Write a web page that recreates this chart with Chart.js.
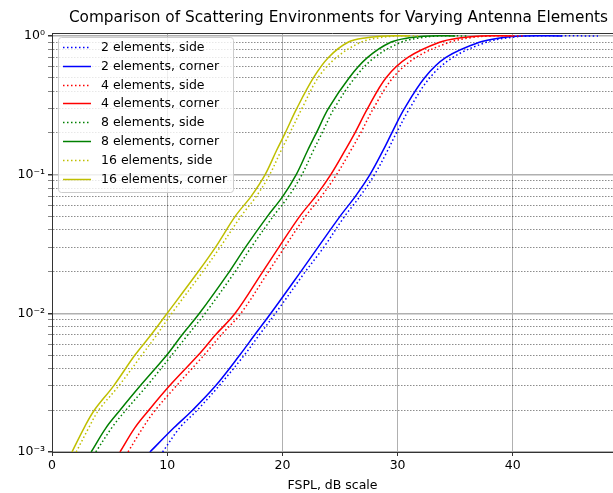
<!DOCTYPE html>
<html>
<head>
<meta charset="utf-8">
<script src="https://cdn.jsdelivr.net/npm/chart.js@4.4.0/dist/chart.umd.min.js"></script>
<style>
  html, body { margin: 0; padding: 0; background: #fff; }
  canvas { display: block; }
</style>
</head>
<body>
<canvas id="myChart" width="613" height="493"></canvas>
<script>
// CDF levels shared by every curve (last entry repeats 1 for the flat tail)
const cdfLevels = [0.001, 0.0015, 0.002, 0.003, 0.005, 0.007, 0.01, 0.02, 0.03, 0.05,
  0.07, 0.1, 0.15, 0.2, 0.3, 0.5, 0.7, 0.9, 0.97, 1, 1];

// FSPL (dB) at each CDF level
const side2 = [9.6, 11.1, 12.6, 14.5, 16.7, 18.0, 19.4, 22.0, 23.6, 25.4, 26.75, 28.0, 29.15, 29.9, 31.05, 32.8, 34.8, 37.7, 39.6, 41.5, 47.4];
const corner2 = [8.5, 10.6, 12.2, 14.2, 16.3, 17.6, 19.0, 21.6, 23.1, 25.0, 26.35, 27.6, 28.75, 29.5, 30.6, 32.35, 34.2, 37.1, 39.0, 40.8, 44.3];
const side4 = [6.6, 7.9, 8.96, 10.8, 13.2, 14.7, 16.4, 18.8, 20.2, 22.0, 23.4, 24.7, 25.95, 26.8, 27.9, 29.6, 31.6, 34.5, 36.3, 38.0, 41.0];
const corner4 = [5.9, 7.2, 8.4, 10.2, 12.7, 14.2, 15.9, 18.3, 19.7, 21.5, 22.9, 24.2, 25.45, 26.3, 27.4, 29.0, 30.9, 33.65, 35.5, 37.2, 40.0];
const side8 = [3.8, 5.2, 6.4, 8.24, 10.4, 11.8, 13.3, 15.9, 17.3, 19.2, 20.55, 21.7, 22.7, 23.45, 24.5, 26.3, 28.0, 30.3, 32.0, 33.6, 36.0];
const corner8 = [3.4, 4.7, 5.9, 7.66, 9.97, 11.3, 12.8, 15.4, 16.8, 18.7, 20.05, 21.2, 22.2, 22.95, 24.0, 25.8, 27.4, 29.4, 31.0, 32.8, 35.0];
const side16 = [2.1, 3.2, 4.05, 5.8, 7.8, 9.1, 10.4, 13.1, 14.6, 16.4, 17.75, 18.9, 19.9, 20.65, 21.7, 23.1, 24.7, 26.8, 28.4, 30.0, 32.0];
const corner16 = [1.73, 2.8, 3.67, 5.35, 7.2, 8.6, 10.0, 12.7, 14.2, 15.9, 17.3, 18.5, 19.5, 20.25, 21.25, 22.7, 24.0, 25.7, 27.3, 29.0, 31.0];

const xTicks = [0, 10, 20, 30, 40];
const yMajor = [0.001, 0.01, 0.1, 1];
const yLabels = ['10\u207B\u00B3', '10\u207B\u00B2', '10\u207B\u00B9', '10\u2070'];
const titleText = 'Comparison of Scattering Environments for Varying Antenna Elements';

const FONT = '"DejaVu Sans", sans-serif';

const toPoints = (xs) => xs.map((x, i) => ({ x: x, y: cdfLevels[i] }));

const makeSet = (label, xs, color, dotted) => ({
  label: label,
  data: toPoints(xs),
  borderColor: color,
  backgroundColor: color,
  borderWidth: 1.5,
  borderDash: dotted ? [1.5, 2.5] : [],
  borderCapStyle: 'butt',
  pointRadius: 0,
  showLine: true,
  fill: false,
  tension: 0.35,
});

const datasets = [
  makeSet('2 elements, side', side2, '#0000ff', true),
  makeSet('2 elements, corner', corner2, '#0000ff', false),
  makeSet('4 elements, side', side4, '#ff0000', true),
  makeSet('4 elements, corner', corner4, '#ff0000', false),
  makeSet('8 elements, side', side8, '#008000', true),
  makeSet('8 elements, corner', corner8, '#008000', false),
  makeSet('16 elements, side', side16, '#bfbf00', true),
  makeSet('16 elements, corner', corner16, '#bfbf00', false),
];
// later datasets are drawn on top
datasets.forEach((d, i) => { d.order = datasets.length - i; });

// all decade ticks: 1..9 x 10^k
const yTicks = [];
[0.001, 0.01, 0.1].forEach((d) => {
  for (let k = 1; k <= 9; k++) yTicks.push(+(k * d).toPrecision(3));
});
yTicks.push(1);
const isMajor = (v) => yMajor.some((m) => Math.abs(m - v) < 1e-12);

// title, top spine and framed legend inside the plot
const framePlugin = {
  id: 'frame',
  afterDatasetsDraw(chart) {
    const { ctx, chartArea } = chart;
    ctx.save();
    ctx.strokeStyle = '#333';
    ctx.lineWidth = 1;
    ctx.beginPath();
    ctx.moveTo(chartArea.left, chartArea.top + 0.5);
    ctx.lineTo(chartArea.right, chartArea.top + 0.5);
    ctx.stroke();

    // axes run a little past the canvas edge, so centre on the full axes width
    ctx.font = '15.3px ' + FONT;
    ctx.fillStyle = '#000';
    ctx.textAlign = 'center';
    ctx.textBaseline = 'middle';
    ctx.fillText(titleText, (chartArea.left + chartArea.right + 12) / 2, chartArea.top - 15);
    ctx.textAlign = 'left';

    const x0 = chartArea.left + 6;
    const y0 = chartArea.top + 4;
    const rowH = 18.8;
    const w = 175;
    const h = 155;
    ctx.beginPath();
    ctx.roundRect(x0 + 0.5, y0 + 0.5, w, h, 3);
    ctx.fillStyle = 'rgba(255,255,255,0.8)';
    ctx.fill();
    ctx.strokeStyle = '#cccccc';
    ctx.stroke();

    ctx.font = '12.5px ' + FONT;
    chart.data.datasets.forEach((ds, i) => {
      const cy = Math.round(y0 + 10 + i * rowH) + 0.5;
      ctx.beginPath();
      ctx.setLineDash(ds.borderDash);
      ctx.lineCap = 'butt';
      ctx.strokeStyle = ds.borderColor;
      ctx.lineWidth = ds.borderWidth;
      ctx.moveTo(x0 + 5, cy);
      ctx.lineTo(x0 + 33, cy);
      ctx.stroke();
      ctx.setLineDash([]);
      ctx.fillStyle = '#000';
      ctx.fillText(ds.label, x0 + 43, cy);
    });
    ctx.restore();
  },
};

new Chart(document.getElementById('myChart'), {
  type: 'scatter',
  data: { datasets: datasets },
  plugins: [framePlugin],
  options: {
    responsive: false,
    animation: false,
    devicePixelRatio: 1,
    layout: { padding: { left: 0, right: 0, top: 33, bottom: 0 } },
    plugins: {
      legend: { display: false },
      tooltip: { enabled: false },
      title: { display: false },
    },
    scales: {
      x: {
        type: 'linear',
        min: 0,
        max: 48.7,
        afterBuildTicks: (scale) => { scale.ticks = xTicks.map((v) => ({ value: v })); },
        afterFit: (scale) => { scale.height = 41; },
        ticks: {
          color: '#000',
          font: { family: FONT, size: 12.5 },
          padding: 2,
          maxRotation: 0,
          autoSkip: false,
        },
        grid: {
          color: '#b0b0b0',
          lineWidth: 1,
          tickColor: '#333',
          tickLength: 4,
        },
        border: { color: '#333', width: 1 },
        title: {
          display: true,
          text: 'FSPL, dB scale',
          color: '#000',
          font: { family: FONT, size: 12.5 },
          padding: { top: 0, bottom: 0 },
        },
      },
      y: {
        type: 'logarithmic',
        min: 0.001,
        max: 1.05,
        afterBuildTicks: (scale) => {
          scale.ticks = yTicks.map((v) => ({ value: v, major: isMajor(v) }));
        },
        afterFit: (scale) => { scale.width = 52; },
        ticks: {
          color: '#000',
          font: { family: FONT, size: 12.5 },
          padding: 3,
          autoSkip: false,
          callback: (value) => {
            const i = yMajor.findIndex((m) => Math.abs(m - value) < 1e-12);
            return i >= 0 ? yLabels[i] : '';
          },
        },
        grid: {
          color: (c) => (c.tick && isMajor(c.tick.value) ? '#b0b0b0' : 'rgba(0,0,0,0.75)'),
          lineWidth: (c) => (c.tick && isMajor(c.tick.value) ? 1.5 : 0.6),
          tickColor: '#333',
          tickLength: 4,
        },
        border: {
          color: '#333',
          width: 1,
          dash: (c) => (c.tick && !isMajor(c.tick.value) ? [1.5, 1.5] : []),
        },
      },
    },
  },
});
</script>
</body>
</html>
